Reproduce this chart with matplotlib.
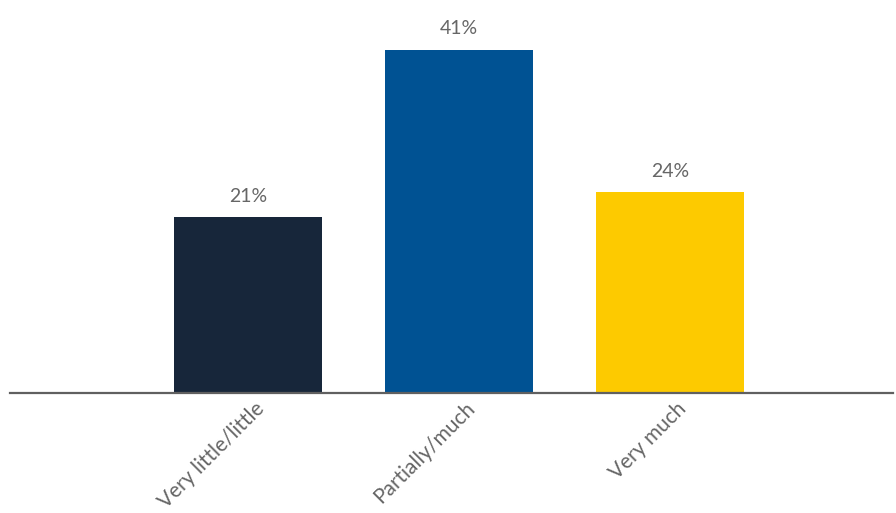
import matplotlib.pyplot as plt
import matplotlib.transforms as mtransforms

categories = ['Very little/little', 'Partially/much', 'Very much']
values = [21, 41, 24]
colors = ['#17263a', '#005293', '#fdca00']

plt.rcParams['font.family'] = ['Lato', 'DejaVu Sans']

fig = plt.figure(figsize=(8.96, 5.13), dpi=100)
ax = fig.add_axes([10/896, 120/513, 883/896, 393/513])

x = range(len(categories))
bars = ax.bar(x, values, width=0.697, color=colors)

for b, v in zip(bars, values):
    ax.annotate(f'{v}%', (b.get_x() + b.get_width()/2, v), xytext=(0, 9),
                textcoords='offset points', ha='center', va='bottom',
                fontsize=14, color='#666666')

ax.set_xlim(-1.128, 3.057)
ax.set_ylim(0, 41*393/343)

for s in ['top', 'right', 'left']:
    ax.spines[s].set_visible(False)
ax.spines['bottom'].set_color('#606060')
ax.spines['bottom'].set_linewidth(1.6)
ax.set_yticks([])
ax.set_xticks(list(x))
ax.set_xticklabels(categories, rotation=45, ha='right', rotation_mode='anchor',
                   fontsize=15, color='#666666')
ax.tick_params(axis='x', length=0, pad=4)

# nudge the slanted labels a little to the right of the bar centres
shift = mtransforms.ScaledTranslation(6/100, 0, fig.dpi_scale_trans)
for lbl in ax.get_xticklabels():
    lbl.set_transform(lbl.get_transform() + shift)

fig.savefig('out.png', dpi=100)
